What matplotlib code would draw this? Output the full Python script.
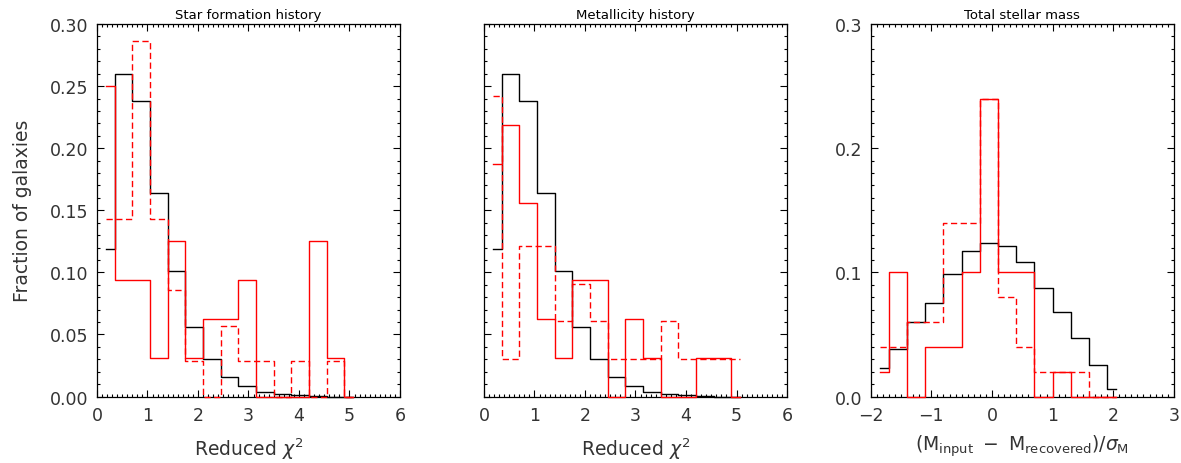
import numpy as np
import matplotlib.pyplot as plt
from matplotlib.ticker import MultipleLocator, FormatStrFormatter

# bin centres (histogram drawn IDL psym=10 style)
chi2_centres = [0.175, 0.525, 0.875, 1.225, 1.575, 1.925, 2.275, 2.625,
                2.975, 3.325, 3.675, 4.025, 4.375, 4.725, 5.075]
mass_centres = [-1.85, -1.55, -1.25, -0.95, -0.65, -0.35, -0.05, 0.25,
                0.55, 0.85, 1.15, 1.45, 1.75, 2.05]

# star formation history
sfh_all    = [0.119, 0.2595, 0.238, 0.164, 0.101, 0.056, 0.030, 0.0159,
              0.0083, 0.0038, 0.002, 0.001, 0.0005, 0.0, 0.0]
sfh_solid  = [0.25, 0.094, 0.094, 0.031, 0.125, 0.031, 0.0625, 0.0625,
              0.094, 0.0, 0.0, 0.0, 0.125, 0.031, 0.0]
sfh_dashed = [0.143, 0.143, 0.286, 0.143, 0.0857, 0.0286, 0.0, 0.057,
              0.0286, 0.0286, 0.0, 0.0286, 0.0, 0.0286, 0.0]

# metallicity history
met_all    = [0.119, 0.2595, 0.238, 0.164, 0.101, 0.056, 0.030, 0.0159,
              0.0083, 0.0038, 0.002, 0.001, 0.0005, 0.0, 0.0]
met_solid  = [0.1875, 0.219, 0.156, 0.0625, 0.031, 0.094, 0.094, 0.0,
              0.0625, 0.031, 0.0, 0.0, 0.031, 0.031, 0.0]
met_dashed = [0.242, 0.030, 0.121, 0.121, 0.0606, 0.0909, 0.0606, 0.030,
              0.030, 0.030, 0.0606, 0.030, 0.030, 0.030, 0.030]

# total stellar mass
mass_all    = [0.023, 0.0386, 0.060, 0.0753, 0.0987, 0.117, 0.1236, 0.121,
               0.108, 0.0877, 0.0678, 0.047, 0.0252, 0.0059]
mass_solid  = [0.02, 0.10, 0.0, 0.04, 0.04, 0.10, 0.24, 0.10, 0.10, 0.0,
               0.02, 0.0, 0.0, 0.0]
mass_dashed = [0.04, 0.04, 0.06, 0.06, 0.14, 0.14, 0.24, 0.08, 0.04, 0.02,
               0.02, 0.02, 0.0, 0.0]

titles = ['Star formation history', 'Metallicity history', 'Total stellar mass']

fig = plt.figure(figsize=(11.81, 4.64), dpi=100)
plt.rc('font', size=12.5)

lefts = [0.0821, 0.4098, 0.7373]
axes = [fig.add_axes([l, 0.1433, 0.2566, 0.8028]) for l in lefts]

panels = [
    (chi2_centres, sfh_all, sfh_solid, sfh_dashed),
    (chi2_centres, met_all, met_solid, met_dashed),
    (mass_centres, mass_all, mass_solid, mass_dashed),
]

for ax, (x, black, solid, dashed), title in zip(axes, panels, titles):
    ax.step(x, black, where='mid', color='black', lw=1.0, clip_on=False, zorder=3)
    ax.step(x, solid, where='mid', color='red', lw=1.0, clip_on=False, zorder=4)
    ax.step(x, dashed, where='mid', color='red', lw=1.0, dashes=(4.5, 2.5),
            clip_on=False, zorder=4)
    ax.set_title(title, fontsize=9.5, pad=4)
    ax.set_ylim(0, 0.3)
    ax.yaxis.set_minor_locator(MultipleLocator(0.01))
    ax.xaxis.set_major_locator(MultipleLocator(1))
    ax.xaxis.set_minor_locator(MultipleLocator(0.1))
    ax.tick_params(which='both', direction='in', top=True, right=True, width=0.8,
                   labelcolor='#333333')
    ax.tick_params(which='major', length=5)
    ax.tick_params(which='minor', length=2.5)
    ax.tick_params(axis='x', pad=7)
    ax.tick_params(axis='y', pad=6)
    for s in ax.spines.values():
        s.set_linewidth(0.9)

for ax in axes[:2]:
    ax.set_xlim(0, 6)
    ax.yaxis.set_major_locator(MultipleLocator(0.05))
    ax.yaxis.set_major_formatter(FormatStrFormatter('%.2f'))
    ax.set_xlabel(r'Reduced $\chi^2$', fontsize=13.5, labelpad=8, color='#333333')

axes[1].set_yticklabels([])
axes[0].set_ylabel('Fraction of galaxies', fontsize=13.5, labelpad=13, color='#333333')

axes[2].set_xlim(-2, 3)
axes[2].yaxis.set_major_locator(MultipleLocator(0.1))
axes[2].yaxis.set_major_formatter(FormatStrFormatter('%.1f'))
axes[2].set_xlabel(r'$(\mathrm{M_{input}}\ -\ \mathrm{M_{recovered}})/\sigma_\mathrm{M}$',
                   fontsize=13.5, labelpad=6, color='#333333')

fig.savefig('out.png', dpi=100)
